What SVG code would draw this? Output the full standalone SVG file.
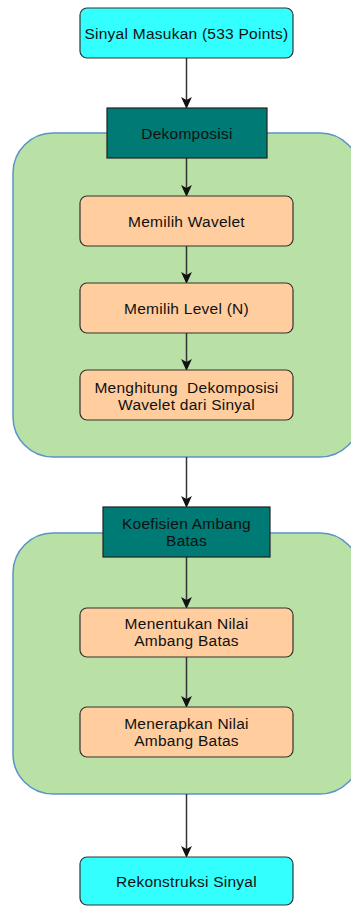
<svg xmlns="http://www.w3.org/2000/svg" width="351" height="906" viewBox="0 0 351 906">
<defs>
<style>
.t{font-family:"Liberation Sans",Arial,sans-serif;font-size:15.5px;letter-spacing:0.25px;fill:#111;text-anchor:middle;white-space:pre}
.cont{fill:#b9e0a5;stroke:#5a93c8;stroke-width:1.5}
.cyan{fill:#33ffff;stroke:#333;stroke-width:1.2}
.teal{fill:#007a74;stroke:#222;stroke-width:1.2}
.org{fill:#ffcd9e;stroke:#333;stroke-width:1.2}
.c{fill:none;stroke:#333;stroke-width:1.5}
</style>
<marker id="ah" markerUnits="userSpaceOnUse" markerWidth="12" markerHeight="12" viewBox="0 0 10 10" refX="5" refY="5" orient="auto">
<path d="M0,0.5 L10,5 L0,9.5 L2.5,5 Z" fill="#111"/>
</marker>
</defs>
<g id="container1"><rect class="cont" x="13" y="133" width="347" height="324" rx="40" ry="40"/></g>
<g id="container2"><rect class="cont" x="13" y="533" width="347" height="261" rx="40" ry="40"/></g>
<g id="connectors">
<path class="c" d="M186.5,58 V103" marker-end="url(#ah)"/>
<path class="c" d="M186.5,158 V191" marker-end="url(#ah)"/>
<path class="c" d="M186.5,246 V278" marker-end="url(#ah)"/>
<path class="c" d="M186.5,333 V365" marker-end="url(#ah)"/>
<path class="c" d="M186.5,457 V502" marker-end="url(#ah)"/>
<path class="c" d="M186.5,557 V603" marker-end="url(#ah)"/>
<path class="c" d="M186.5,657 V702" marker-end="url(#ah)"/>
<path class="c" d="M186.5,794 V852" marker-end="url(#ah)"/>
</g>
<g id="input"><rect class="cyan" x="80" y="8" width="213" height="50" rx="7"/><text class="t" x="186.5" y="38.5">Sinyal Masukan (533 Points)</text></g>
<g id="dekomposisi"><rect class="teal" x="107" y="108" width="160" height="50"/><text class="t" x="187" y="138.5">Dekomposisi</text></g>
<g id="memilih-wavelet"><rect class="org" x="80" y="196" width="213" height="50" rx="7"/><text class="t" x="186.5" y="226.5">Memilih Wavelet</text></g>
<g id="memilih-level"><rect class="org" x="80" y="283" width="213" height="50" rx="7"/><text class="t" x="186.5" y="313.5">Memilih Level (N)</text></g>
<g id="menghitung"><rect class="org" x="80" y="370" width="213" height="50" rx="7"/><text class="t" x="186.5" y="392.5">Menghitung  Dekomposisi</text><text class="t" x="186.5" y="409.5">Wavelet dari Sinyal</text></g>
<g id="koefisien"><rect class="teal" x="103" y="507" width="167" height="50"/><text class="t" x="186.5" y="529">Koefisien Ambang</text><text class="t" x="186.5" y="546">Batas</text></g>
<g id="menentukan"><rect class="org" x="80" y="608" width="213" height="49" rx="7"/><text class="t" x="186.5" y="629">Menentukan Nilai</text><text class="t" x="186.5" y="646">Ambang Batas</text></g>
<g id="menerapkan"><rect class="org" x="80" y="707" width="213" height="50" rx="7"/><text class="t" x="186.5" y="729">Menerapkan Nilai</text><text class="t" x="186.5" y="746">Ambang Batas</text></g>
<g id="rekonstruksi"><rect class="cyan" x="80" y="857" width="213" height="48" rx="7"/><text class="t" x="186.5" y="886.5">Rekonstruksi Sinyal</text></g>
</svg>
